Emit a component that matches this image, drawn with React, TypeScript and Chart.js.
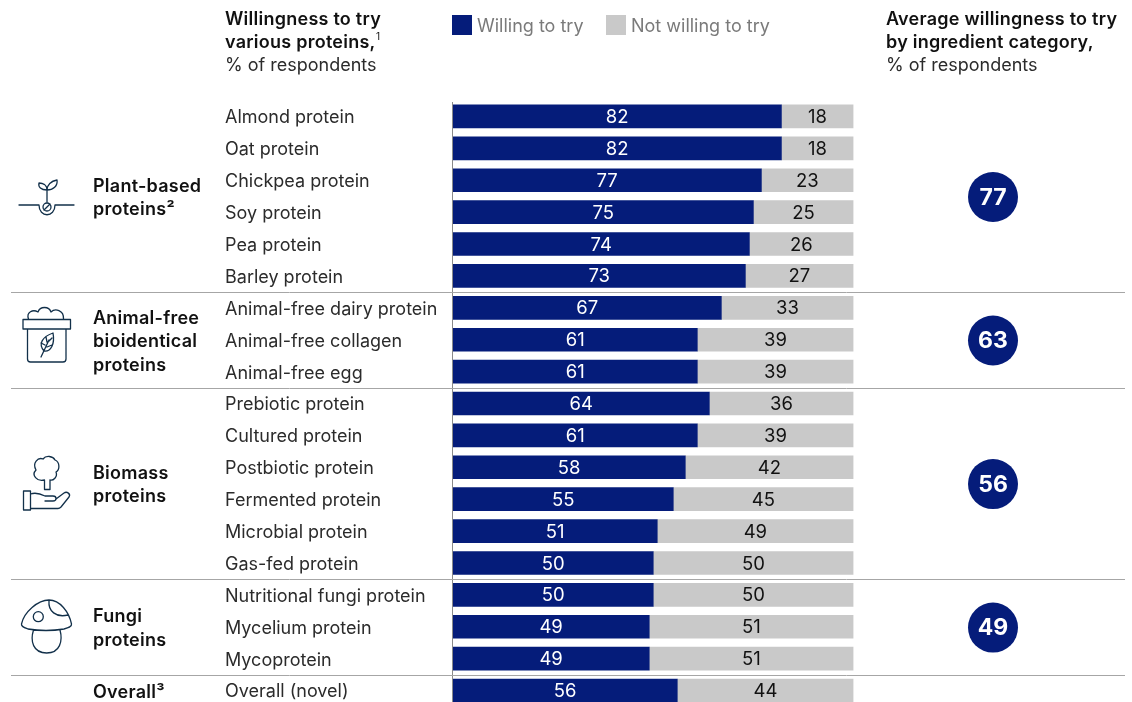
import { useEffect, useRef } from "react";
import { Chart, registerables } from "chart.js";

Chart.register(...registerables);

const proteins = [
  "Almond protein", "Oat protein", "Chickpea protein", "Soy protein", "Pea protein", "Barley protein",
  "Animal-free dairy protein", "Animal-free collagen", "Animal-free egg",
  "Prebiotic protein", "Cultured protein", "Postbiotic protein", "Fermented protein", "Microbial protein", "Gas-fed protein",
  "Nutritional fungi protein", "Mycelium protein", "Mycoprotein",
  "Overall (novel)",
];
const willing = [82, 82, 77, 75, 74, 73, 67, 61, 61, 64, 61, 58, 55, 51, 50, 50, 49, 49, 56];
const notWilling = [18, 18, 23, 25, 26, 27, 33, 39, 39, 36, 39, 42, 45, 49, 50, 50, 51, 51, 44];
const groupNames = [
  ["Plant-based", "proteins²"],
  ["Animal-free", "bioidentical", "proteins"],
  ["Biomass", "proteins"],
  ["Fungi", "proteins"],
  ["Overall³"],
];
const groupFirstRow = [0, 6, 9, 15, 18];
const groupLastRow = [5, 8, 14, 17, 18];
const groupAverages = [77, 63, 56, 49];

const NAVY = "#051c7a";
const GREY = "#c9c9c9";
const INK = "#111111";
const BODY = "#2b2b2b";
const ICON = "#12304a";
const FONT = "Inter, 'Liberation Sans', sans-serif";

// line-art glyphs for the four protein families
const icons = [
  "M19 205H39 M55 205H74 M47 190V203 M47 190C41 190 38 187 39 183C43 183 47 185 47 190C47 185 51 181 57 180C58 186 53 190 47 190 M39 205C39 218 55 218 55 205 M43 207a4 4 0 1 0 8 0a4 4 0 1 0 -8 0 M44 210L50 204",
  "M23 319.5H70.5V329H23Z M27.5 329V359C27.5 361 28.5 362 30.5 362H63C65 362 66 361 66 359V329 M28.5 319C26 312 33 309 38 312C40 306 49 306 51 312C55 308 64 310 63.5 319 M41 357L49 340 M44 351C38 344 42 337 53 333C55 344 51 352 44 351 M45 345L41 343 M47 342L46 337 M47 347L52 345 M49 341L52 338",
  "M23.5 491H30.5V510H23.5Z M30.5 494C36 492 41 494 45 496H53C57 496 57 501 53 501H45 M56 499L64 493C67 491 71 494 69 497L61 507C60 508 59 508.5 58 508.5H30.5 M44.5 489.5V480 M50 489.5V480 M44.5 489.5H50 M44.5 480C37 482 31 475 36 470C32 463 38 457 43 459C46 455 53 456 55 460C60 462 60 470 56 472C58 477 53 481 50 480",
  "M21.5 624C24 612 38 600 49 600C60 600 69 612 71.5 624C72 627 68 628 64 629C52 631 40 631 28 629C25 628 21 627 21.5 624 M33.5 630C30 641 33 653 46.7 653C60 653 63 641 60 630 M49 601C48 611 56 618 68 615 M43.3 616.7a5 5 0 1 0 -10 0a5 5 0 1 0 10 0",
];

export default function App() {
  const ref = useRef<HTMLCanvasElement>(null);

  useEffect(() => {
    document.body.style.margin = "0";
    const decorations = {
      id: "decorations",
      afterDatasetsDraw(chart: any) {
        const { ctx, scales } = chart;
        const y = scales.y;
        const step = y.getPixelForValue(1) - y.getPixelForValue(0);
        ctx.save();
        ctx.textBaseline = "middle";

        // value labels inside each bar segment
        ctx.textAlign = "center";
        ctx.font = `400 18.5px ${FONT}`;
        chart.data.datasets.forEach((ds: any, i: number) => {
          chart.getDatasetMeta(i).data.forEach((bar: any, j: number) => {
            ctx.fillStyle = i === 0 ? "#ffffff" : INK;
            ctx.fillText(String(ds.data[j]), (bar.base + bar.x) / 2, bar.y + 1);
          });
        });

        // row labels, left-aligned against the start of the label column
        ctx.textAlign = "left";
        ctx.fillStyle = BODY;
        ctx.font = `400 18px ${FONT}`;
        chart.data.labels.forEach((label: string, i: number) => {
          ctx.fillText(label, 225, y.getPixelForValue(i) + 1.5);
        });

        // zero line
        ctx.strokeStyle = "#8a8a8a";
        ctx.lineWidth = 1;
        ctx.beginPath();
        ctx.moveTo(452.5, 102);
        ctx.lineTo(452.5, 702);
        ctx.stroke();

        // group separators
        ctx.strokeStyle = "#a6a6a6";
        groupLastRow.slice(0, 4).forEach((last) => {
          const py = Math.round(y.getPixelForValue(last) + step / 2) + 0.5;
          ctx.beginPath();
          ctx.moveTo(11, py);
          ctx.lineTo(1125, py);
          ctx.stroke();
        });

        // group names
        ctx.fillStyle = INK;
        ctx.font = `600 18px ${FONT}`;
        ctx.letterSpacing = "0.25px";
        groupNames.forEach((lines, g) => {
          const cy = (y.getPixelForValue(groupFirstRow[g]) + y.getPixelForValue(groupLastRow[g])) / 2;
          lines.forEach((text, k) => {
            ctx.fillText(text, 93, cy + 2 + (k - (lines.length - 1) / 2) * 23.5);
          });
        });
        ctx.letterSpacing = "0px";

        // category averages
        groupAverages.forEach((value, g) => {
          const cy = (y.getPixelForValue(groupFirstRow[g]) + y.getPixelForValue(groupLastRow[g])) / 2 + 0.8;
          ctx.fillStyle = NAVY;
          ctx.beginPath();
          ctx.arc(993, cy, 25, 0, Math.PI * 2);
          ctx.fill();
          ctx.fillStyle = "#ffffff";
          ctx.textAlign = "center";
          ctx.font = `700 23px ${FONT}`;
          ctx.fillText(String(value), 993, cy + 1);
        });

        // column headers
        ctx.textAlign = "left";
        ctx.fillStyle = INK;
        ctx.font = `600 18px ${FONT}`;
        ctx.letterSpacing = "0.25px";
        ctx.fillText("Willingness to try", 225, 19.5);
        const headerLine = "various proteins,";
        ctx.fillText(headerLine, 225, 43);
        const headerEnd = 225 + ctx.measureText(headerLine).width;
        ctx.fillText("Average willingness to try", 886, 19.5);
        ctx.fillText("by ingredient category,", 886, 43);
        ctx.letterSpacing = "0px";
        ctx.font = `400 10px ${FONT}`;
        ctx.fillText("1", headerEnd + 0.5, 37);
        ctx.fillStyle = BODY;
        ctx.font = `400 18px ${FONT}`;
        ctx.fillText("% of respondents", 225, 66);
        ctx.fillText("% of respondents", 886, 66);

        // legend
        const swatches = [452, 606];
        chart.data.datasets.forEach((ds: any, i: number) => {
          ctx.fillStyle = ds.backgroundColor;
          ctx.fillRect(swatches[i], 15, 20, 20);
          ctx.fillStyle = "#7a7a7a";
          ctx.fillText(ds.label, swatches[i] + 25, 27);
        });

        // family icons
        ctx.strokeStyle = ICON;
        ctx.lineWidth = 1.3;
        ctx.lineJoin = "round";
        ctx.lineCap = "round";
        icons.forEach((d) => ctx.stroke(new Path2D(d)));
        ctx.restore();
      },
    };

    const chart = new Chart(ref.current!, {
      type: "bar",
      data: {
        labels: proteins,
        datasets: [
          { label: "Willing to try", data: willing, backgroundColor: NAVY },
          { label: "Not willing to try", data: notWilling, backgroundColor: GREY },
        ],
      },
      options: {
        indexAxis: "y",
        animation: false,
        responsive: false,
        layout: { padding: { left: 225, top: 100.5, right: 278.5, bottom: 19.5 } },
        datasets: { bar: { barThickness: 23 } },
        plugins: { legend: { display: false }, tooltip: { enabled: false } },
        scales: {
          x: { stacked: true, min: 0, max: 100, display: false },
          y: {
            stacked: true,
            afterFit(scale: any) { scale.width = 228; },
            grid: { display: false },
            border: { display: false },
            ticks: { display: false },
          },
        },
      },
      plugins: [decorations],
    } as any);
    return () => chart.destroy();
  }, []);

  return (
    <div style={{ width: 1132, height: 702, overflow: "hidden", background: "#fff" }}>
      <canvas ref={ref} width={1132} height={726} style={{ display: "block" }} />
    </div>
  );
}
